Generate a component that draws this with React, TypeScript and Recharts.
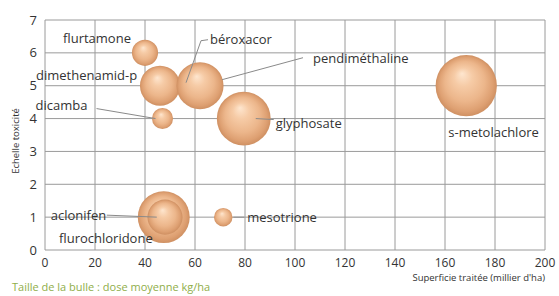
import { ScatterChart, Scatter, XAxis, YAxis, ZAxis, CartesianGrid } from "recharts";

const names = [
  "flurtamone",
  "dimethenamid-p",
  "dicamba",
  "béroxacor",
  "pendiméthaline",
  "glyphosate",
  "s-metolachlore",
  "aclonifen",
  "flurochloridone",
  "mesotrione",
];
const superficie = [40, 46, 47, 58, 62, 79.5, 168.5, 47.5, 48, 71.3];
const toxicite = [6, 5, 4, 5, 5, 4, 5, 1, 1, 1];
const dose = [0.2, 0.47, 0.13, 0.1, 0.65, 0.85, 1.1, 0.79, 0.36, 0.1];

const xTicks = [0, 20, 40, 60, 80, 100, 120, 140, 160, 180, 200];
const yTicks = [0, 1, 2, 3, 4, 5, 6, 7];

const data = names.map((name, i) => ({
  name,
  x: superficie[i],
  y: toxicite[i],
  z: dose[i],
}));

// label placement, px relative to bubble centre
const labelPos: Record<string, { dx: number; dy: number; line?: number[][] }> = {
  flurtamone: { dx: -82, dy: -15 },
  "dimethenamid-p": { dx: -124, dy: -11 },
  dicamba: { dx: -127, dy: -14, line: [[-66, -10], [-7, 0]] },
  "béroxacor": { dx: 20, dy: -47, line: [[18, -46], [11, -45], [-4, -3]] },
  "pendiméthaline": { dx: 113, dy: -28, line: [[103, -28], [22, -6]] },
  glyphosate: { dx: 32, dy: 4, line: [[12, 0], [30, 1]] },
  "s-metolachlore": { dx: -18, dy: 46 },
  aclonifen: { dx: -113, dy: -2, line: [[-57, -2], [-7, 0]] },
  flurochloridone: { dx: -106, dy: 21 },
  mesotrione: { dx: 24, dy: 0, line: [[10, 0], [21, 0]] },
};

const font = "'Open Sans', 'DejaVu Sans', sans-serif";

function Bubble(props: any) {
  const { cx, cy, width, size } = props;
  const r = width ? width / 2 : Math.sqrt(size / Math.PI);
  return <circle cx={cx} cy={cy} r={r} fill="url(#sphere)" />;
}

function BubbleLabel(props: any) {
  const { cx, cy, payload } = props;
  const p = labelPos[payload.name];
  if (!p) return <g />;
  return (
    <g>
      {p.line && (
        <polyline
          points={p.line.map(([a, b]) => `${cx + a},${cy + b}`).join(" ")}
          fill="none"
          stroke="#8a8a8a"
          strokeWidth={1}
        />
      )}
      <text
        x={cx + p.dx}
        y={cy + p.dy}
        dominantBaseline="central"
        fontSize={13}
        fontFamily={font}
        fill="#333"
      >
        {payload.name}
      </text>
    </g>
  );
}

export default function App() {
  return (
    <div style={{ position: "absolute", left: 0, top: 0, width: 559, height: 296, background: "#fff", fontFamily: font }}>
      <ScatterChart width={559} height={296} margin={{ top: 20, right: 14, bottom: 0, left: 0 }}>
        <defs>
          <radialGradient id="sphere" cx="0.5" cy="0.5" r="0.5" fx="0.43" fy="0.3">
            <stop offset="0%" stopColor="#fee6cf" />
            <stop offset="30%" stopColor="#f6cba6" />
            <stop offset="65%" stopColor="#ecb68b" />
            <stop offset="88%" stopColor="#dea072" />
            <stop offset="100%" stopColor="#cf9062" />
          </radialGradient>
        </defs>
        <CartesianGrid stroke="#9a9a9a" strokeWidth={1} />
        <XAxis
          type="number"
          dataKey="x"
          domain={[0, 200]}
          ticks={xTicks}
          axisLine={false}
          tickLine={false}
          height={46}
          tick={{ fontSize: 12, fill: "#333", fontFamily: font }}
        />
        <YAxis
          type="number"
          dataKey="y"
          domain={[0, 7]}
          ticks={yTicks}
          axisLine={false}
          tickLine={false}
          width={45}
          tickMargin={2}
          tick={{ fontSize: 13, fill: "#333", fontFamily: font }}
        />
        <ZAxis type="number" dataKey="z" domain={[0, 1.2]} range={[0, 3217]} />
        <Scatter data={data} shape={Bubble} isAnimationActive={false} />
        <Scatter data={data} shape={BubbleLabel} isAnimationActive={false} />
      </ScatterChart>
      <div
        style={{
          position: "absolute",
          left: 15,
          top: 141,
          transform: "translate(-50%, -50%) rotate(-90deg)",
          fontSize: 9.5,
          color: "#333",
          whiteSpace: "nowrap",
        }}
      >
        Echelle toxicité
      </div>
      <div style={{ position: "absolute", right: 14, top: 271, fontSize: 9.5, color: "#333", whiteSpace: "nowrap" }}>
        Superficie traitée (millier d'ha)
      </div>
      <div style={{ position: "absolute", left: 12, top: 279, fontSize: 11, color: "#8fae4a", whiteSpace: "nowrap" }}>
        Taille de la bulle : dose moyenne kg/ha
      </div>
    </div>
  );
}
